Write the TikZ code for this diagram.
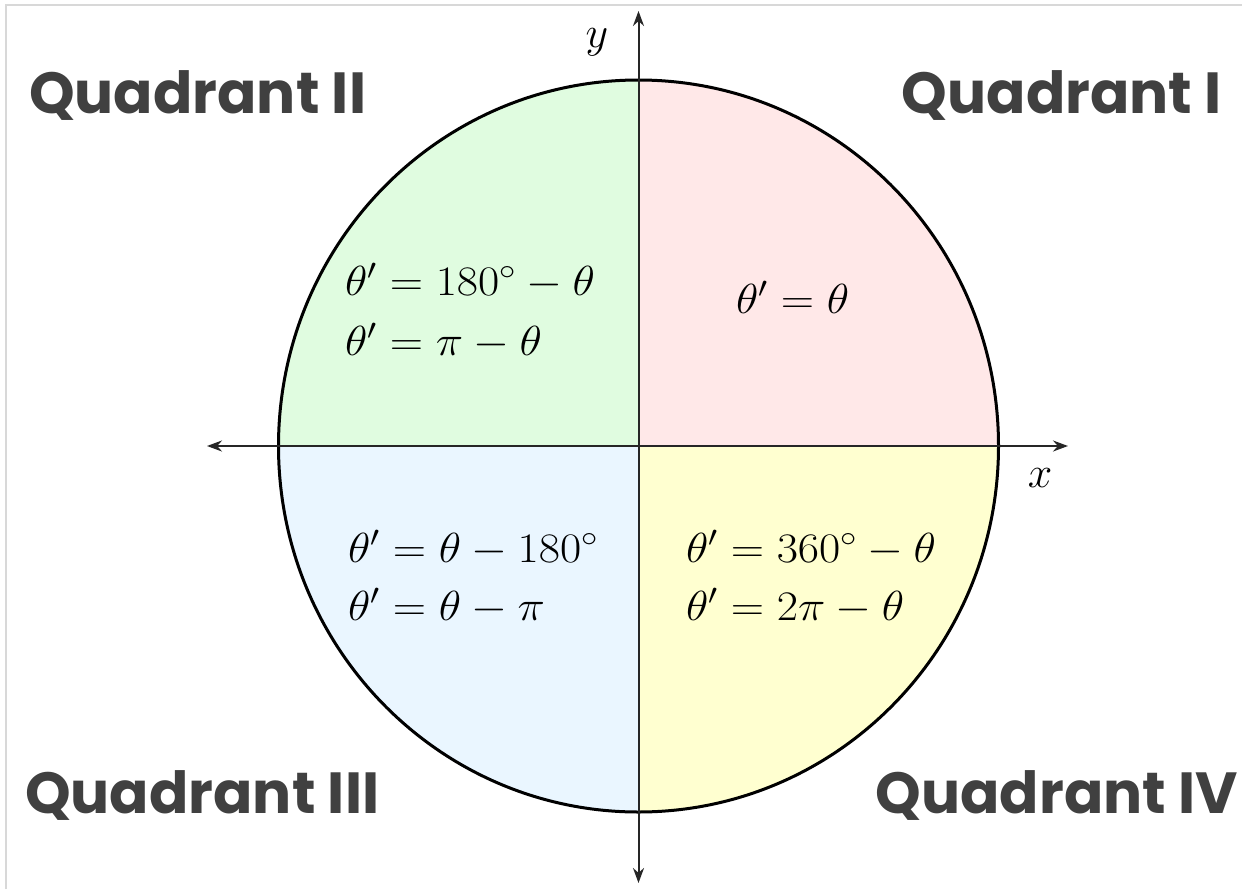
\RequirePackage{fix-cm}
\documentclass[tikz,border=0pt]{standalone}
\usepackage{fontspec}
\usepackage{graphicx}
\newfontfamily\quadfont{Poppins}
\usetikzlibrary{arrows.meta}
\definecolor{qone}{RGB}{255,232,232}
\definecolor{qtwo}{RGB}{224,252,224}
\definecolor{qthree}{RGB}{234,246,255}
\definecolor{qfour}{RGB}{255,255,208}
\definecolor{labelgray}{RGB}{64,64,64}
\definecolor{framegray}{RGB}{216,216,216}
\newcommand{\wideformula}[1]{\scalebox{1.1}[1]{$#1$}}
\tikzset{
  quadlabel/.style={font=\quadfont\bfseries\fontsize{58}{60}\selectfont, text=labelgray, inner sep=0pt},
  formula/.style={font=\fontsize{42}{45}\selectfont, inner sep=0pt, anchor=base west},
  axis/.style={line width=2pt, draw=black!85, -{Stealth[length=15pt,width=11pt]}},
  axislabel/.style={font=\fontsize{44}{46}\selectfont, inner sep=0pt},
}
\begin{document}
\begin{tikzpicture}[x=1pt,y=-1pt]
\useasboundingbox (0,0) rectangle (1242,889);
\fill[white] (0,0) rectangle (1242,889);
% frame (top and left only)
\draw[framegray, line width=2pt] (6,889) -- (6,4.5) -- (1242,4.5);
% quadrant fills
\coordinate (O) at (638.5,446);
\fill[qone] (O) -- ++(360,0) arc[start angle=0,end angle=-90,x radius=360,y radius=366] -- cycle;
\fill[qtwo] (O) -- ++(0,-366) arc[start angle=-90,end angle=-180,x radius=360,y radius=366] -- cycle;
\fill[qthree] (O) -- ++(-360,0) arc[start angle=180,end angle=90,x radius=360,y radius=366] -- cycle;
\fill[qfour] (O) -- ++(0,366) arc[start angle=90,end angle=0,x radius=360,y radius=366] -- cycle;
\draw[line width=3pt] (O) ellipse[x radius=360,y radius=366];
% axes
\coordinate (xl) at (207,446);
\coordinate (xr) at (1068,446);
\coordinate (yt) at (638.5,11);
\coordinate (yb) at (638.5,883);
\draw[axis] (O) -- (xr);
\draw[axis] (O) -- (xl);
\draw[axis] (O) -- (yt);
\draw[axis] (O) -- (yb);
\node[axislabel] (ylab) at (597,42) {$y$};
\node[axislabel] (xlab) at (1040,478) {$x$};
% quadrant labels
\node[quadlabel, anchor=base west] (q2) at (29,113) {Quadrant II};
\node[quadlabel, anchor=base east] (q1) at (1222,113) {Quadrant I};
\node[quadlabel, anchor=base west] (q3) at (25,813) {Quadrant III};
\node[quadlabel, anchor=base east] (q4) at (1238,813) {Quadrant IV};
% formulas
\node[formula] (f2a) at (345,295) {\wideformula{\theta' = 180^\circ - \theta}};
\node[formula] (f2b) at (345,355) {\wideformula{\theta' = \pi - \theta}};
\node[formula] (f1) at (736,313) {\wideformula{\theta' = \theta}};
\node[formula] (f3a) at (348,562) {\wideformula{\theta' = \theta - 180^\circ}};
\node[formula] (f3b) at (348,620) {\wideformula{\theta' = \theta - \pi}};
\node[formula] (f4a) at (686,562) {\wideformula{\theta' = 360^\circ - \theta}};
\node[formula] (f4b) at (686,620) {\wideformula{\theta' = 2\pi - \theta}};
\end{tikzpicture}
\end{document}
